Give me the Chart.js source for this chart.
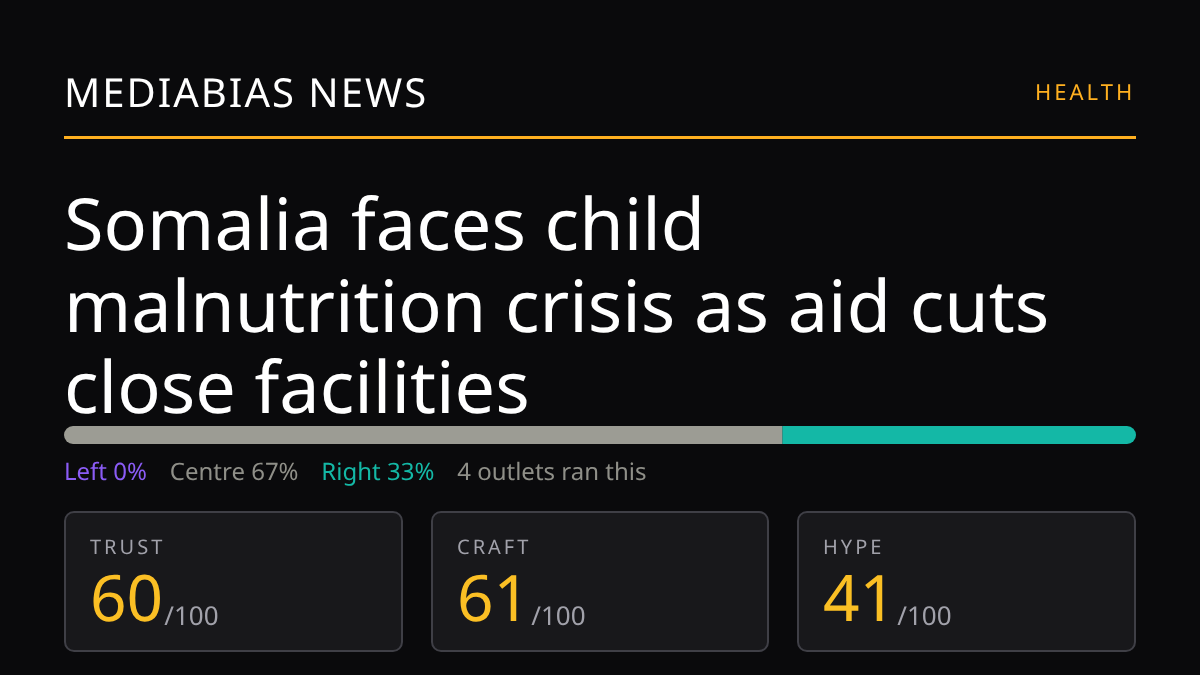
<!DOCTYPE html>
<html lang="en">
<head>
<meta charset="UTF-8">
<title>MediaBias News</title>
<script src="https://cdn.jsdelivr.net/npm/chart.js"></script>
<style>
    * { box-sizing: border-box; margin: 0; padding: 0; }
    html, body { width: 1200px; height: 675px; overflow: hidden; }
    body {
        background-color: #0a0a0c;
        color: #fff;
        font-family: "Noto Sans", sans-serif;
        text-rendering: geometricPrecision;
        position: relative;
    }
    .brand, .section, h1, .legend, .name, .score { will-change: transform; }
    .brand { position: absolute; left: 64px; top: 66px; font-size: 40px; line-height: 52px; letter-spacing: 2px; white-space: nowrap; }
    .section { position: absolute; right: 65px; top: 77px; font-size: 22px; line-height: 30px; letter-spacing: 3px; color: #ffb020; white-space: nowrap; }
    .rule { position: absolute; left: 64px; top: 136px; width: 1072px; height: 3px; background: #ffb020; }
    h1 { position: absolute; left: 64px; top: 183px; width: 1072px; font-size: 72px; line-height: 81.5px; font-weight: 400; }
    .bar-wrap { position: absolute; left: 64px; top: 426px; width: 1072px; height: 18px; }
    .legend { position: absolute; left: 64px; top: 457px; font-size: 24px; line-height: 30px; white-space: nowrap; display: flex; gap: 22.8px; color: #a1a1aa; }
    .cards { position: absolute; left: 64px; top: 511px; width: 1072px; display: flex; gap: 28px; }
    .card { flex: 1; height: 141px; background: #18181b; border: 2px solid #3f3f46; border-radius: 10px; position: relative; }
    .card .name { position: absolute; left: 24px; top: 23px; font-size: 20px; line-height: 22px; letter-spacing: 3px; color: #a1a1aa; }
    .card .score { position: absolute; left: 24px; top: 50px; font-size: 64px; line-height: 68px; color: #fbbf24; white-space: nowrap; }
    .card .score span { font-size: 26px; color: #a1a1aa; margin-left: 1px; position: relative; top: 4px; }
</style>
</head>
<body>
    <div class="brand">MEDIABIAS NEWS</div>
    <div class="section">HEALTH</div>
    <div class="rule"></div>
    <h1>Somalia faces child<br>malnutrition crisis as aid cuts<br>close facilities</h1>
    <div class="bar-wrap"><canvas id="biasBar"></canvas></div>
    <div class="legend" id="legend"></div>
    <div class="cards" id="cards"></div>

    <script>
        const categories = ['Coverage'];
        const biasLabels = ['Left', 'Centre', 'Right'];
        const biasValues = [0, 67, 33];
        const biasColors = ['#8b5cf6', '#9c9c94', '#14b8a6'];
        const legendColors = ['#8b5cf6', '#8f8f88', '#14b8a6'];
        const outletNote = '4 outlets ran this';
        const scoreLabels = ['TRUST', 'CRAFT', 'HYPE'];
        const scoreValues = [60, 61, 41];
        const scoreMax = 100;

        const legend = document.getElementById('legend');
        biasLabels.forEach((label, i) => {
            const item = document.createElement('span');
            item.textContent = `${label} ${biasValues[i]}%`;
            item.style.color = legendColors[i];
            legend.appendChild(item);
        });
        const note = document.createElement('span');
        note.textContent = outletNote;
        note.style.color = '#8f8f88';
        legend.appendChild(note);

        const cards = document.getElementById('cards');
        scoreLabels.forEach((label, i) => {
            const card = document.createElement('div');
            card.className = 'card';
            card.innerHTML = `<div class="name">${label}</div><div class="score">${scoreValues[i]}<span>/${scoreMax}</span></div>`;
            cards.appendChild(card);
        });

        const radii = [
            0,
            { topLeft: 9, bottomLeft: 9, topRight: 0, bottomRight: 0 },
            { topLeft: 0, bottomLeft: 0, topRight: 9, bottomRight: 9 }
        ];

        new Chart(document.getElementById('biasBar'), {
            type: 'bar',
            data: {
                labels: categories,
                datasets: biasLabels.map((label, i) => ({
                    label: label,
                    data: [biasValues[i]],
                    backgroundColor: biasColors[i],
                    borderWidth: 0,
                    borderSkipped: false,
                    borderRadius: radii[i],
                    inflateAmount: 0,
                    barPercentage: 1,
                    categoryPercentage: 1
                }))
            },
            options: {
                indexAxis: 'y',
                responsive: true,
                maintainAspectRatio: false,
                animation: false,
                layout: { padding: 0 },
                plugins: { legend: { display: false }, tooltip: { enabled: false } },
                scales: {
                    x: { stacked: true, min: 0, max: 100, display: false },
                    y: { stacked: true, display: false }
                }
            }
        });
    </script>
</body>
</html>
